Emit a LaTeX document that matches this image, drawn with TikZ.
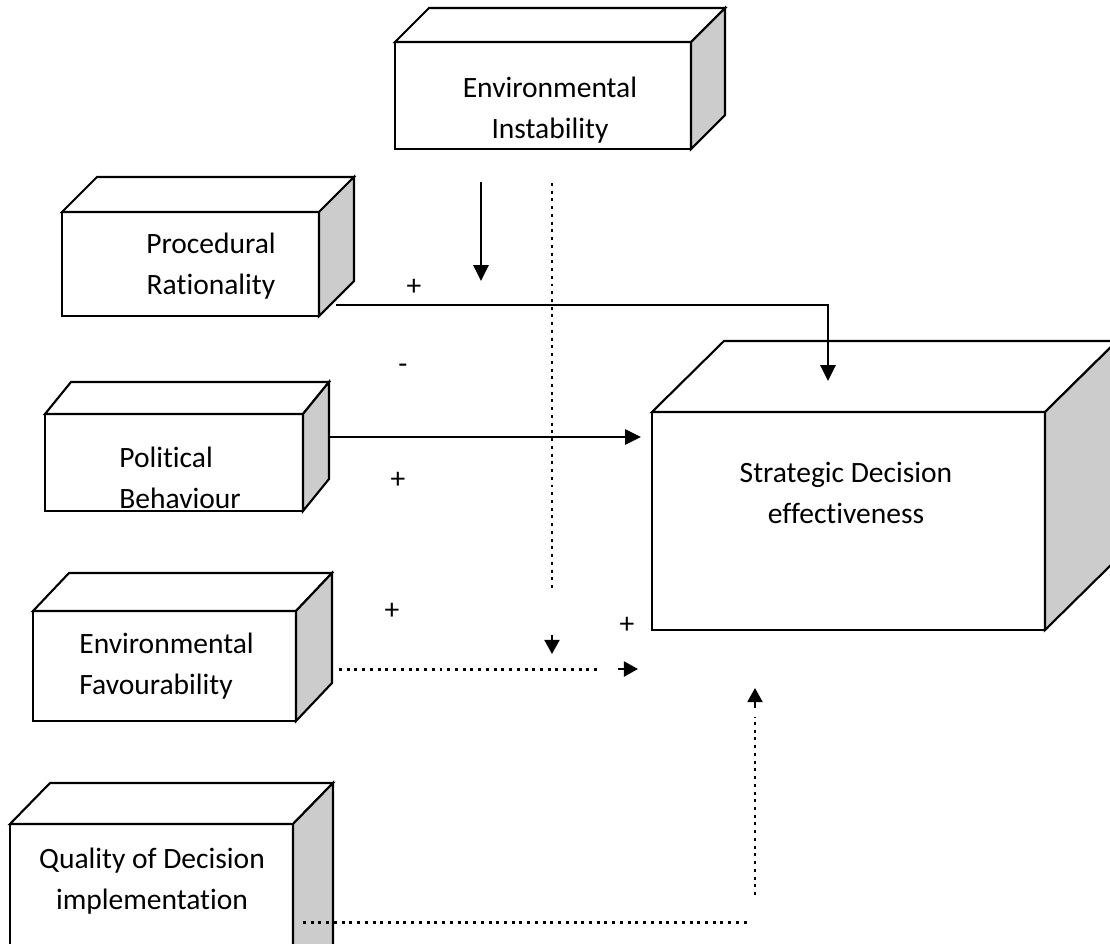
\documentclass[tikz,border=0pt]{standalone}
\usepackage{fontspec}
\setmainfont[Ligatures=NoCommon]{Carlito}
\usetikzlibrary{arrows.meta,calc}
\newcommand\cubebox[7]{%
  \node[face, minimum width={(#4-#2)*0.02cm}, minimum height={(#5-#3)*0.02cm}] (#1) at (#2,#3) {};
  \draw[boxline, fill=white] (#1.north west) -- ++(#6,-#7) -- ($(#1.north east)+(#6,-#7)$) -- (#1.north east) -- cycle;
  \draw[boxline, fill=gray!40] (#1.north east) -- ++(#6,-#7) -- ($(#1.south east)+(#6,-#7)$) -- (#1.south east) -- cycle;
}
\begin{document}
\begin{tikzpicture}[x=0.02cm,y=-0.02cm,
  boxline/.style={line width=1.2pt,line join=miter},
  face/.style={draw,boxline,fill=white,inner sep=0pt,outer sep=0pt,anchor=north west},
  lbl/.style={font=\fontsize{16.8}{23.4}\selectfont,inner sep=0pt},
  sgn/.style={font=\fontsize{16.8}{20}\selectfont,inner sep=0pt},
  solidc/.style={line width=1.3pt},
  dotc/.style={line width=1.7pt,dash pattern=on 1.7pt off 2.7pt},
  tip/.style={-{Triangle[length=9pt,width=8.5pt]}},
  smalltip/.style={-{Triangle[length=8pt,width=8.5pt]}},
]
\useasboundingbox (0,0) rectangle (1110,944);
\clip (0,0) rectangle (1110,944);

% boxes
\cubebox{ei}{395}{42}{691}{149}{34}{34}
\cubebox{pr}{62}{212}{319}{316}{35}{35}
\cubebox{pb}{45}{414}{303}{511}{26}{32}
\cubebox{ef}{33}{611}{296}{721}{36}{38}
\cubebox{qd}{10}{824}{293}{990}{40}{41}
\cubebox{sd}{652}{412}{1045}{630}{72}{71}

% texts
\node[lbl,align=center] (eit) at (550,110) {Environmental\\Instability};
\node[lbl,align=center] (prt) at (211,266) {Procedural\\Rationality};
\node[lbl,align=left,anchor=west] (pbt) at (119,478) {Political\\Behaviour};
\node[lbl,align=left,anchor=west] (eft) at (79,666) {Environmental\\Favourability};
\node[lbl,align=center] (qdt) at (152,881) {Quality of Decision\\implementation};
\node[lbl,align=center] (sdt) at (846,493) {Strategic Decision\\effectiveness};

% signs
\node[sgn] (s1) at (414,287) {+};
\node[sgn] (s2) at (403,369) {-};
\node[sgn] (s3) at (398,480) {+};
\node[sgn] (s4) at (392,611) {+};
\node[sgn] (s5) at (627,625) {+};

% coordinates
\coordinate (a1s) at (481,182);
\coordinate (a1e) at (481,281);
\coordinate (d1s) at (552,183);
\coordinate (d1e) at (552,589);
\coordinate (d1h) at (552,635);
\coordinate (d1t) at (552,654);
\coordinate (prout) at (336,305);
\coordinate (sdtop) at (828,381);
\coordinate (pbout) at (328,437);
\coordinate (sdleft) at (641,437);
\coordinate (efout) at (339,669);
\coordinate (efend) at (598,669);
\coordinate (efh) at (618,669);
\coordinate (eft2) at (638,669);
\coordinate (qdout) at (303,922);
\coordinate (qdend) at (748,922);
\coordinate (qvs) at (755,895);
\coordinate (qve) at (755,717);
\coordinate (qvh) at (755,708);
\coordinate (qvt) at (755,688);

% connectors
\draw[solidc,tip] (a1s) -- (a1e);
\draw[dotc] (d1s) -- (d1e);
\draw[solidc,smalltip] (d1h) -- (d1t);
\draw[solidc,tip] (prout) -| (sdtop);
\draw[solidc,tip] (pbout) -- (sdleft);
\draw[dotc] (efout) -- (efend);
\draw[solidc,smalltip] (efh) -- (eft2);
\draw[dotc] (qdout) -- (qdend);
\draw[dotc] (qvs) -- (qve);
\draw[solidc,smalltip] (qvh) -- (qvt);
\end{tikzpicture}
\end{document}
